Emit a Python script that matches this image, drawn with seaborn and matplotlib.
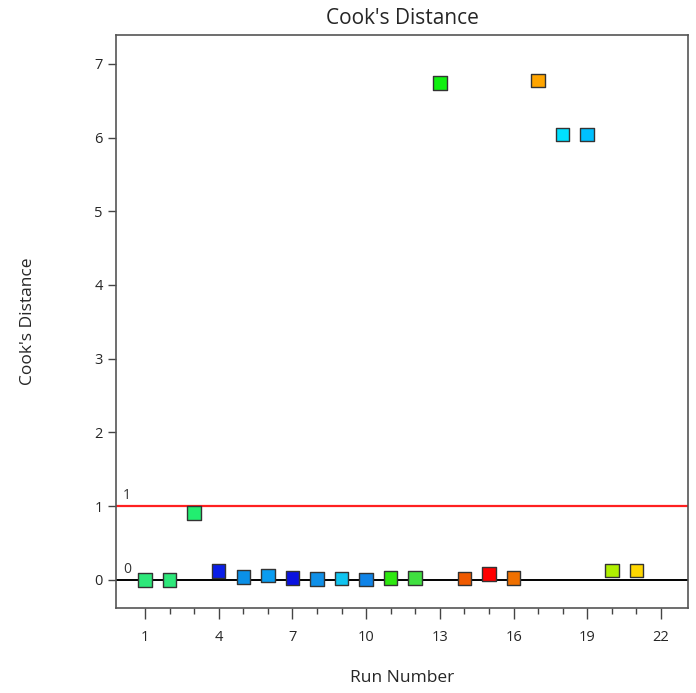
import matplotlib
matplotlib.use("Agg")
import matplotlib.pyplot as plt
import seaborn as sns
import pandas as pd
from matplotlib.ticker import FixedLocator

sns.set_style("white")
plt.rcParams["font.family"] = ["Open Sans", "DejaVu Sans"]

run_number = list(range(1, 22))
cooks_distance = [0.00, 0.00, 0.91, 0.12, 0.04, 0.06, 0.03, 0.01, 0.02, 0.005,
                  0.03, 0.03, 6.74, 0.02, 0.08, 0.03, 6.77, 6.04, 6.04, 0.13, 0.13]
point_colors = ["#2ee87a", "#2ee87a", "#22ee70", "#0a1ee8", "#0a90e8", "#0a9cf0",
                "#0a12e0", "#1090e8", "#10c4f0", "#1084e8", "#2ee810", "#40e040",
                "#10f010", "#f05a00", "#ff0000", "#f07000", "#ffa500", "#00e0ff",
                "#00c0ff", "#b0f000", "#ffd700"]
x_major = [1, 4, 7, 10, 13, 16, 19, 22]
x_minor = list(range(1, 23))

df = pd.DataFrame({"Run": run_number, "D": cooks_distance,
                   "key": [str(r) for r in run_number]})
palette = dict(zip(df["key"], point_colors))

fig = plt.figure(figsize=(6.96, 6.93), dpi=100)
ax = fig.add_axes([116 / 696, 1 - 608 / 693, (688 - 116) / 696, (608 - 35) / 693])

ax.axhline(1, color="#ff2020", lw=1.6, zorder=1)
ax.axhline(0, color="black", lw=1.4, zorder=1)
ax.text(0.1, 1.04, "1", fontsize=10, color="#333333", va="bottom")
ax.text(0.1, 0.04, "0", fontsize=10, color="#333333", va="bottom")

sns.scatterplot(data=df, x="Run", y="D", hue="key", palette=palette, marker="s",
                s=95, edgecolor="#333333", linewidth=1.0, legend=False, ax=ax,
                zorder=3)

ax.set_xlim(-0.18, 23.1)
ax.set_ylim(-0.38, 7.39)
ax.xaxis.set_major_locator(FixedLocator(x_major))
ax.xaxis.set_minor_locator(FixedLocator(x_minor))
ax.set_yticks(range(0, 8))
ax.tick_params(axis="x", which="major", length=8, width=1, color="#444444",
               labelsize=10.5, pad=8, bottom=True)
ax.tick_params(axis="x", which="minor", length=4, width=1, color="#444444",
               bottom=True)
ax.tick_params(axis="y", which="major", length=6, width=1, color="#444444",
               labelsize=10.5, left=True)
for sp in ax.spines.values():
    sp.set_color("#555555")
    sp.set_linewidth(1.2)

ax.set_title("Cook's Distance", fontsize=15, pad=8)
ax.set_xlabel("Run Number", fontsize=12.5, labelpad=18)
ax.set_ylabel("Cook's Distance", fontsize=12.5, labelpad=42)

fig.savefig("out.png", dpi=100)
